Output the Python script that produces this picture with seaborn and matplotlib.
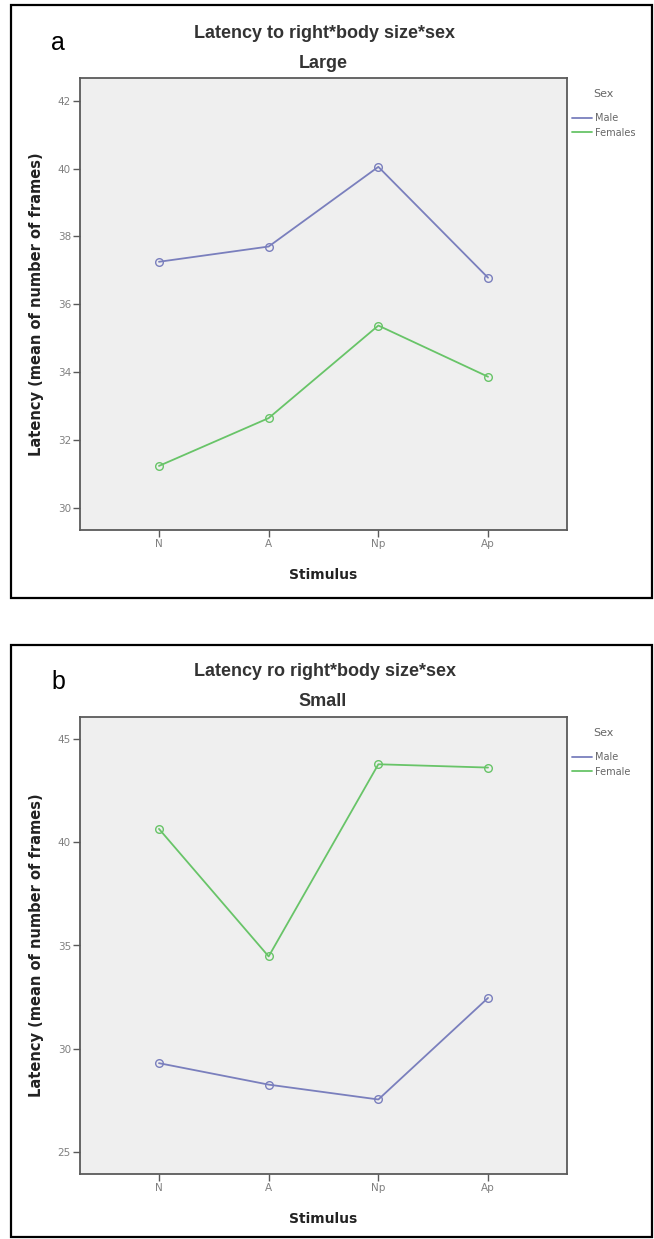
import matplotlib
matplotlib.use("Agg")
import matplotlib.pyplot as plt
from matplotlib.patches import Rectangle
from matplotlib.lines import Line2D
import seaborn as sns
import pandas as pd

# ---- data ----
stimulus = ["N", "A", "Np", "Ap"]
large_male = [37.25, 37.7, 40.05, 36.78]
large_female = [31.23, 32.64, 35.37, 33.86]
small_male = [29.30, 28.26, 27.54, 32.46]
small_female = [40.65, 34.47, 43.78, 43.62]
large_sex_labels = ["Male", "Females"]
small_sex_labels = ["Male", "Female"]
large_yticks = [30, 32, 34, 36, 38, 40, 42]
small_yticks = [25, 30, 35, 40, 45]

sns.set_theme(style="white")
plt.rcParams["font.family"] = ["DejaVu Sans"]

W, H = 654, 1239
fig = plt.figure(figsize=(W / 100, H / 100), dpi=100)

MALE_C = "#7a7fbd"
FEMALE_C = "#68c468"


def fx(px):
    return px / W


def fy(py):
    return 1 - py / H


def panel(top, bottom, male, female, labels, yticks, ylim, letter, title, sub,
          box_top, box_bottom, leg_top):
    ax = fig.add_axes([fx(80), fy(bottom), fx(567) - fx(80), fy(top) - fy(bottom)])
    df = pd.DataFrame({
        "Stimulus": stimulus * 2,
        "Latency": male + female,
        "Sex": [labels[0]] * 4 + [labels[1]] * 4,
    })
    pal = {labels[0]: MALE_C, labels[1]: FEMALE_C}
    sns.lineplot(data=df, x="Stimulus", y="Latency", hue="Sex", palette=pal,
                 marker="o", markersize=5.5, markerfacecolor="none",
                 markeredgewidth=1.0, linewidth=1.3, ax=ax, legend=False,
                 sort=False)
    for ln in ax.lines:
        ln.set_markeredgecolor(ln.get_color())
    ax.set_facecolor("#efefef")
    ax.set_xlim(-0.72, 3.72)
    ax.set_ylim(*ylim)
    ax.set_yticks(yticks)
    ax.set_xticks(range(len(stimulus)))
    ax.set_xticklabels(stimulus)
    for s in ax.spines.values():
        s.set_color("#5a5a5a")
        s.set_linewidth(1.3)
    ax.tick_params(axis="both", which="both", length=5, width=1.0,
                   color="#5a5a5a", labelcolor="#808080", labelsize=7.5,
                   pad=1.5, direction="out", bottom=True, left=True)
    ax.set_xlabel("Stimulus", fontsize=10, fontweight="bold", color="#222222")
    ax.set_ylabel("Latency (mean of number of frames)", fontsize=10.5,
                  fontweight="bold", color="#222222")
    h = bottom - top
    ax.xaxis.set_label_coords(0.5, -45 / h)
    ax.xaxis.label.set_va("center")
    ax.yaxis.set_label_coords(-(80 - 37) / 487, 0.5)
    ax.yaxis.label.set_va("center")

    handles = [Line2D([], [], color=MALE_C, lw=1.3),
               Line2D([], [], color=FEMALE_C, lw=1.3)]
    leg = ax.legend(handles, labels, loc="upper left",
                    bbox_to_anchor=((572 - 80) / 487, (bottom - leg_top) / h),
                    frameon=False, fontsize=7, handlelength=2.1,
                    handletextpad=0.25, borderpad=0, borderaxespad=0,
                    labelspacing=0.5)
    for t in leg.get_texts():
        t.set_color("#666666")
    fig.text(fx(593), fy(top + 16), "Sex", fontsize=8, color="#666666",
             ha="left", va="center")

    fig.text(fx(325), fy(top - 45), title, fontsize=13, fontweight="bold",
             color="#333333", ha="center", va="center",
             family=["Liberation Sans", "DejaVu Sans"])
    fig.text(fx(323), fy(top - 15), sub, fontsize=13, fontweight="bold",
             color="#333333", ha="center", va="center",
             family=["Liberation Sans", "DejaVu Sans"])
    fig.text(fx(58), fy(top - 35), letter, fontsize=18, color="black",
             ha="center", va="center", family=["Liberation Sans", "DejaVu Sans"])
    fig.patches.append(Rectangle((fx(11), fy(box_bottom)), fx(652) - fx(11),
                                 fy(box_top) - fy(box_bottom),
                                 transform=fig.transFigure, fill=False,
                                 edgecolor="black", linewidth=1.6))
    return ax


panel(78, 530, large_male, large_female, large_sex_labels, large_yticks,
      (29.34, 42.67), "a", "Latency to right*body size*sex", "Large", 5, 598, 113)
panel(717, 1174, small_male, small_female, small_sex_labels, small_yticks,
      (23.93, 46.07), "b", "Latency ro right*body size*sex", "Small", 645, 1237, 752)

fig.savefig("out.png", dpi=100, facecolor="white")
